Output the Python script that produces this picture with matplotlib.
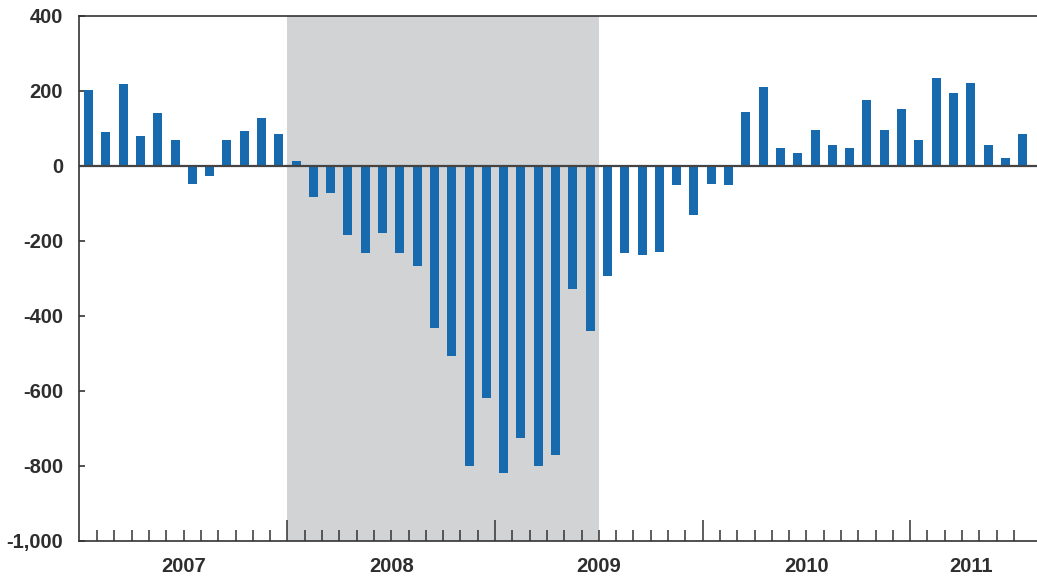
import numpy as np
import matplotlib
matplotlib.use('Agg')
import matplotlib.pyplot as plt

# ── Data: monthly change, Jan 2007 .. Jul 2011 ─────────────
years = ['2007', '2008', '2009', '2010', '2011']
months_per_year = [12, 12, 12, 12, 7]
values = [
    202, 90, 218, 79, 140, 68, -48, -27, 68, 92, 127, 84,          # 2007
    12, -84, -73, -185, -233, -180, -233, -268, -433, -508, -801, -620,  # 2008
    -820, -726, -801, -772, -329, -441, -294, -233, -238, -230, -52, -132,  # 2009
    -49, -52, 143, 210, 47, 34, 95, 55, 47, 175, 95, 151,          # 2010
    68, 234, 194, 220, 55, 20, 84,                                  # 2011
]
recession = (11.5, 29.5)   # Dec 2007 .. Jun 2009 (month-index bounds)
y_ticks = [400, 200, 0, -200, -400, -600, -800, -1000]
y_labels = ['400', '200', '0', '-200', '-400', '-600', '-800', '-1,000']

BAR = '#176aad'
SHADE = '#d1d3d5'
INK = '#2e2e2e'
FONT = dict(family=['Liberation Sans', 'DejaVu Sans'], fontweight='bold', fontsize=14.5)

W, H = 1037, 578
fig = plt.figure(figsize=(W / 100, H / 100), dpi=100)
ax = fig.add_axes([79 / W, 1 - 540.5 / H, (W - 79) / W, (540.5 - 15.5) / H])

x = np.arange(len(values))
ax.axvspan(*recession, color=SHADE, zorder=0, lw=0)
ax.bar(x, values, width=0.52, color=BAR, zorder=2)
ax.axhline(0, color='#444444', lw=1.6, zorder=3)

ax.set_xlim(-0.55, 54.83)
ax.set_ylim(-1000, 400)

# y axis
ax.set_yticks(y_ticks)
ax.set_yticklabels(y_labels, color=INK, **FONT)
ax.tick_params(axis='y', direction='in', length=4, width=1.2, color='#333333', pad=11.5)

# x axis: short ticks at month boundaries, tall ones at year boundaries
edges = np.cumsum(months_per_year)[:-1] - 0.5
ax.set_xticks(edges)
ax.set_xticks(np.arange(0.5, len(values) - 1, 1.0), minor=True)
ax.set_xticklabels([])
ax.tick_params(axis='x', which='major', direction='in', length=15, width=1.1, color='#333333')
ax.tick_params(axis='x', which='minor', direction='in', length=8, width=1.1, color='#333333')

starts = np.concatenate([[0], np.cumsum(months_per_year)[:-1]])
for yr, s, n in zip(years, starts, months_per_year):
    ax.text(s + (n - 1) / 2, -0.049, yr, transform=ax.get_xaxis_transform(),
            ha='center', va='center', color=INK, **FONT)

for side in ['left', 'top', 'bottom']:
    ax.spines[side].set_color('#333333')
    ax.spines[side].set_linewidth(1.2)
    ax.spines[side].set_zorder(4)
ax.spines['right'].set_visible(False)

fig.savefig('out.png', dpi=100, facecolor='white')
